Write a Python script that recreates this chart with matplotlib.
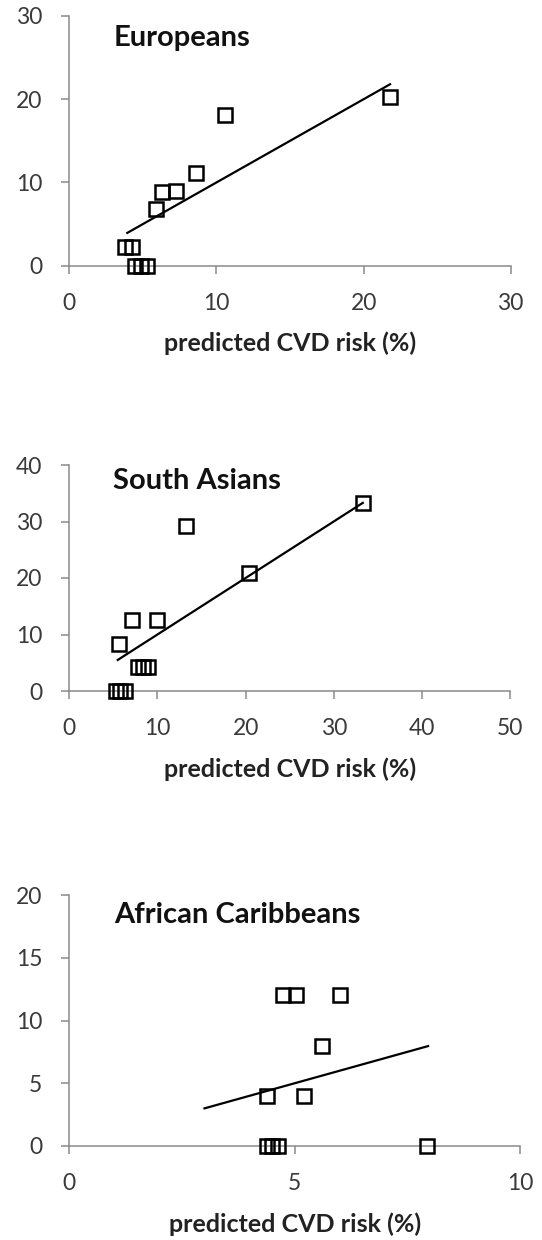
import matplotlib
matplotlib.use('Agg')
import matplotlib.pyplot as plt
import numpy as np

plt.rcParams['font.family'] = ['Lato', 'DejaVu Sans']

# predicted vs observed CVD risk (%), one group per panel
groups = ['Europeans', 'South Asians', 'African Caribbeans']

eu_pred = [3.77, 4.29, 4.48, 4.88, 5.28, 5.9, 6.3, 7.24, 8.6, 10.6, 21.8]
eu_obs = [2.2, 2.2, 0, 0, 0, 6.8, 8.9, 9.0, 11.1, 18.1, 20.3]

sa_pred = [5.3, 5.78, 6.37, 5.66, 7.08, 9.98, 7.74, 8.33, 8.92, 13.25, 20.4, 33.3]
sa_obs = [0, 0, 0, 8.3, 12.5, 12.5, 4.2, 4.2, 4.2, 29.2, 20.8, 33.3]

ac_pred = [4.38, 4.5, 4.62, 7.94, 4.38, 5.21, 4.75, 5.02, 6.0, 5.6]
ac_obs = [0, 0, 0, 0, 4, 4, 12, 12, 12, 8]

# range of the line of identity drawn in each panel
line_lo = [3.94, 5.5, 3.0]
line_hi = [21.8, 33.3, 7.96]

x_max = [30, 50, 10]
x_step = [10, 10, 5]
y_max = [30, 40, 20]
y_step = [10, 10, 5]

pred = [eu_pred, sa_pred, ac_pred]
obs = [eu_obs, sa_obs, ac_obs]

W, H = 542, 1240
fig = plt.figure(figsize=(W / 100, H / 100), dpi=100)

# axes boxes in pixels: left, right, top, bottom
boxes = [(69.3, 510.7, 16, 265.7),
         (69.3, 510, 465, 691),
         (69.3, 520, 895, 1146)]
title_y = [0.91, 0.93, 0.92]

axis_grey = '#8a8a8a'
tick_text = '#3a3a3a'

for i in range(3):
    l, r, t, b = boxes[i]
    ax = fig.add_axes([l / W, 1 - b / H, (r - l) / W, (b - t) / H])

    ax.plot(pred[i], obs[i], linestyle='none', marker='s', markersize=9.5,
            markerfacecolor='none', markeredgecolor='black',
            markeredgewidth=1.8, clip_on=False, zorder=3)

    xs = [line_lo[i], line_hi[i]]
    ax.plot(xs, xs, color='black', linewidth=1.6, zorder=2)

    ax.set_xlim(0, x_max[i])
    ax.set_ylim(0, y_max[i])
    ax.set_xticks(np.arange(0, x_max[i] + 1, x_step[i]))
    ax.set_yticks(np.arange(0, y_max[i] + 1, y_step[i]))

    for side in ['top', 'right']:
        ax.spines[side].set_visible(False)
    for side in ['left', 'bottom']:
        ax.spines[side].set_color(axis_grey)
        ax.spines[side].set_linewidth(1.1)

    ax.tick_params(direction='out', length=6, width=1.1, color=axis_grey,
                   labelsize=16.5, labelcolor=tick_text, pad=13.5)

    ax.text(0.10, title_y[i], groups[i], transform=ax.transAxes,
            fontsize=21, fontweight='bold', ha='left', va='center',
            color='#111111')

    ax.set_xlabel('predicted CVD risk (%)', fontsize=18, fontweight='bold',
                  color='#222222', labelpad=13)

plt.savefig('out.png', dpi=100)
